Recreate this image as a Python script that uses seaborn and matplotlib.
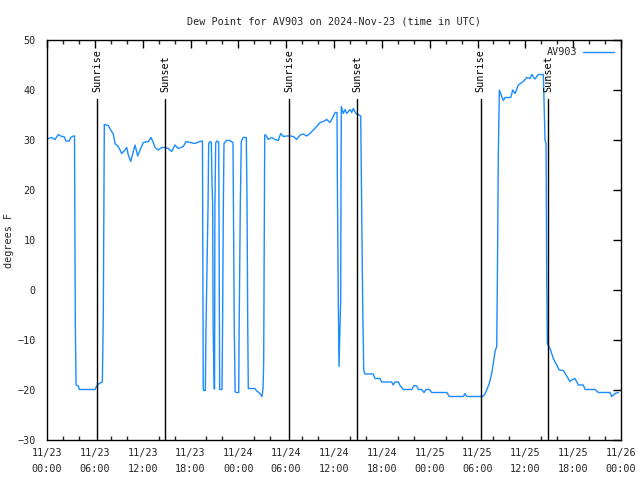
import matplotlib
matplotlib.use("Agg")
import matplotlib.pyplot as plt
import matplotlib.dates as mdates
import numpy as np
import pandas as pd
import seaborn as sns

# ---- data: hours since 2024-11-23 00:00 UTC, dew point (F) ----
hours = [
    0.00, 0.16, 0.59, 1.00, 1.42, 1.84, 2.13, 2.38, 2.80, 2.97, 3.30, 3.45,
    3.55, 3.65, 3.93, 4.05, 6.02, 6.23, 6.56, 6.94, 7.06, 7.19, 7.69, 7.90,
    8.32, 8.53, 8.94, 9.37, 9.78, 10.00, 10.20, 10.50, 10.83, 11.04, 11.38,
    11.67, 12.08, 12.71, 13.05, 13.33, 13.55, 13.96, 14.39, 14.80, 15.22,
    15.64, 16.06, 16.47, 17.10, 17.44, 17.94, 18.57, 18.98, 19.48,
    19.50, 19.60, 19.66, 19.86, 19.94, 20.20, 20.28, 20.45, 20.61, 20.70,
    20.78, 20.84, 20.88, 20.97, 21.02, 21.06, 21.16, 21.30, 21.54, 21.62,
    21.66, 21.95, 22.02, 22.12, 22.20, 22.50, 22.90, 23.33, 23.39, 23.49,
    23.60, 23.70, 24.05, 24.10, 24.25, 24.37, 24.60, 25.00, 25.09, 25.18,
    25.25, 26.05, 26.26, 26.56, 26.81, 26.97, 27.10, 27.18, 27.31, 27.43,
    27.76, 28.19, 28.60, 29.01, 29.32, 29.64, 30.07, 30.48, 30.90, 31.32,
    31.74, 32.15, 32.58, 32.99, 33.40, 33.83, 34.25, 34.66, 35.09, 35.50,
    35.91, 36.13, 36.38, 36.42, 36.54, 36.63, 36.84, 36.88, 36.92, 37.17,
    37.38, 37.59, 38.01, 38.22, 38.42, 38.76, 39.05, 39.35, 39.43, 39.60,
    39.73, 39.89, 40.93, 41.14, 41.77, 41.98, 43.24, 43.44, 43.65, 44.07,
    44.28, 44.70, 45.75, 46.04, 46.38, 46.58, 47.00, 47.29, 47.54, 47.96,
    48.26, 50.14, 50.47, 52.22, 52.43, 52.65, 54.65, 54.94, 55.23, 55.48,
    55.78, 55.98, 56.20, 56.41, 56.49, 56.61, 56.74, 57.04, 57.24, 57.45,
    58.17, 58.42, 58.71, 59.12, 59.75, 60.17, 60.59, 60.80, 61.21, 61.63,
    62.26, 62.47, 62.60, 62.68, 62.76, 63.10, 63.51, 63.94, 64.26, 64.76,
    65.19, 65.61, 65.82, 66.23, 66.65, 67.27, 67.49, 68.74, 69.16, 70.62,
    70.84, 71.25, 71.67,
]
dewpoint = [
    30.1, 30.3, 30.5, 30.1, 31.1, 30.7, 30.7, 29.8, 29.8, 30.5, 30.8, 30.8,
    -6.5, -19.0, -19.2, -19.9, -19.9, -19.2, -18.7, -18.4, -5.5, 33.1, 32.9, 32.2,
    31.2, 29.3, 28.7, 27.3, 28.0, 28.5, 27.0, 25.7, 27.7, 29.0, 26.8,
    28.0, 29.5, 29.7, 30.5, 29.5, 28.5, 28.0, 28.5, 28.5, 28.3,
    27.7, 29.0, 28.3, 28.7, 29.7, 29.5, 29.3, 29.6, 29.8,
    29.6, -19.7, -20.1, -20.1, -8.0, 16.8, 29.3, 29.7, 29.5, 21.3,
    17.4, -7.6, -11.4, -19.8, -19.8, 16.7, 29.4, 29.8, 29.6, -7.7,
    -19.9, -19.9, -7.7, 16.8, 29.3, 29.9, 29.9, 29.5, 16.1, -7.6,
    -20.3, -20.5, -20.5, -8.0, 17.5, 29.7, 30.5, 30.5, 17.8, -7.3,
    -19.7, -19.7, -20.1, -20.5, -20.9, -21.3, -19.7, -14.3, 31.0, 31.0,
    30.1, 30.5, 30.1, 29.9, 31.3, 30.7, 30.8, 30.8, 30.7, 30.1,
    31.0, 31.2, 30.8, 31.3, 32.0, 32.7, 33.5, 33.7, 34.1, 33.5,
    34.7, 35.5, 35.5, 22.7, -2.3, -15.3, -2.0, 23.3, 36.7, 35.3,
    36.1, 35.3, 36.1, 35.5, 36.3, 35.3, 35.1, 34.8, 22.0, -3.3,
    -16.0, -16.8, -16.8, -17.7, -17.7, -18.4, -18.4, -19.0, -18.4, -18.4,
    -19.1, -19.9, -19.9, -19.1, -19.2, -19.9, -19.9, -20.5, -19.9, -19.9,
    -20.5, -20.5, -21.3, -21.3, -20.7, -21.3, -21.3, -20.8, -19.7, -18.7,
    -16.7, -14.7, -12.3, -11.3, 1.3, 27.0, 40.0, 38.7, 37.9, 38.5,
    38.5, 40.0, 39.3, 41.0, 41.7, 42.5, 42.3, 43.1, 42.2, 43.1,
    43.1, 30.0, 29.3, 2.7, -10.7, -11.7, -13.7, -15.0, -16.0, -16.1,
    -17.2, -18.3, -18.0, -17.7, -19.0, -19.0, -19.9, -19.9, -20.5, -20.5,
    -21.3, -20.7, -20.5,
]
event_hours = [6.31, 14.84, 30.40, 38.93, 54.40, 62.88]
event_labels = ["Sunrise", "Sunset", "Sunrise", "Sunset", "Sunrise", "Sunset"]
station = "AV903"
title = "Dew Point for AV903 on 2024-Nov-23 (time in UTC)"
ylabel = "degrees F"

start = pd.Timestamp("2024-11-23 00:00")
df = pd.DataFrame({
    "time": start + pd.to_timedelta(hours, unit="h"),
    "dew": dewpoint,
})

sns.set_style("white")
plt.rcParams["font.family"] = ["DejaVu Sans Mono", "DejaVu Sans"]
plt.rcParams["font.size"] = 7.3

fig, ax = plt.subplots(figsize=(6.4, 4.8), dpi=100)
fig.subplots_adjust(left=47/640, right=621/640, top=1-40/480, bottom=1-440/480)

sns.lineplot(data=df, x="time", y="dew", ax=ax, color="#1a8cff",
             linewidth=1.0, estimator=None, sort=False, label=station)

for h, lab in zip(event_hours, event_labels):
    t = start + pd.Timedelta(hours=h)
    ax.plot([t, t], [-30, 38.2], color="black", linewidth=1.0)
    ax.text(t, 39.6, lab, rotation=90, ha="center", va="bottom",
            fontsize=7.3, color="black")

ax.set_xlim(start, start + pd.Timedelta(hours=72))
ax.set_ylim(-30, 50)
ax.set_yticks(np.arange(-30, 51, 10))
ax.xaxis.set_major_locator(mdates.HourLocator(byhour=[0, 6, 12, 18]))
ax.xaxis.set_minor_locator(mdates.HourLocator(byhour=range(0, 24, 2)))
ax.xaxis.set_major_formatter(mdates.DateFormatter("%m/%d\n%H:%M"))
ax.tick_params(axis="both", which="major", direction="in", length=6,
               width=1, top=True, right=True, labelsize=7.3, color="black")
ax.tick_params(axis="x", which="major", pad=6)
ax.tick_params(axis="y", which="major", pad=8)
ax.tick_params(axis="x", which="minor", direction="in", length=3,
               width=1, top=True, bottom=True)
for s in ax.spines.values():
    s.set_color("black")
    s.set_linewidth(1.0)

ax.set_xlabel("")
ax.set_ylabel(ylabel, fontsize=7.3)
ax.yaxis.set_label_coords(-0.058, 0.5)
ax.set_title(title, fontsize=7.3, pad=11)

ax.legend(loc="upper right", frameon=False, markerfirst=False,
          handlelength=3.0, handletextpad=0.6, fontsize=7.3,
          borderaxespad=0.3)

fig.canvas.draw()
plt.setp(ax.get_xticklabels(), linespacing=1.75)

fig.savefig("out.png", dpi=100)
